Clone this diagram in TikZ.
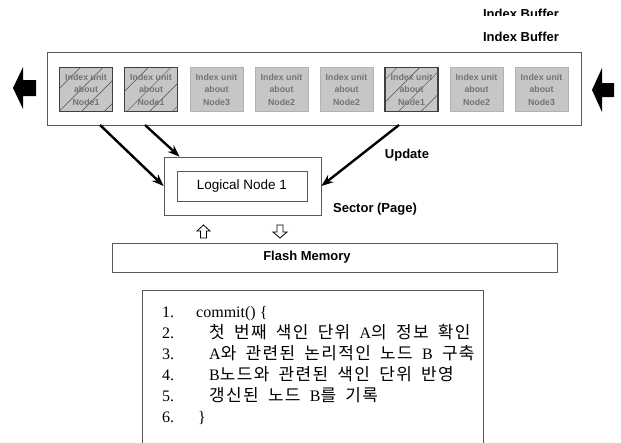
\documentclass[tikz,border=0pt]{standalone}
\usepackage{fontspec}
\setmainfont{Liberation Serif}
\setsansfont{Liberation Sans}
\newfontfamily\korfont{Noto Sans CJK KR}[Scale=1.06,LetterSpace=8,WordSpace=1.8]
\usetikzlibrary{arrows.meta,patterns.meta}
\newcommand{\kor}[1]{{\korfont #1}}
\tikzset{
  unit/.style={draw=gray!60, fill=gray!45, line width=0.6pt, minimum width=53pt, minimum height=44pt, inner sep=0pt, align=center, font=\sffamily\bfseries\fontsize{8.8}{12.5}\selectfont, text=black!55},
  oldunit/.style={unit, draw=gray!50!black, line width=1.1pt, postaction={pattern={Lines[angle=45,distance=16pt,line width=0.5pt]}, pattern color=gray!60!black}},
  frame/.style={draw=gray!70!black, line width=0.7pt, inner sep=0pt},
  lbl/.style={font=\sffamily\bfseries\fontsize{13}{15}\selectfont, inner sep=0pt},
  upd/.style={-{Stealth[length=12pt,width=9pt]}, line width=2.4pt},
  codeline/.style={anchor=base west, inner sep=0pt, font=\fontsize{16}{18}\selectfont}
}
\begin{document}
\begin{tikzpicture}[x=1pt,y=-1pt]
			\useasboundingbox (0,0) rectangle (621,442);
			\node[frame, minimum width=534pt, minimum height=73pt] (buffer) at (314,88.5) {};
			\node[oldunit] (unit1) at (86,89.5) {Index unit\\about\\Node1};
			\node[oldunit] (unit2) at (151,89.5) {Index unit\\about\\Node1};
			\node[unit] (unit3) at (216.5,89.5) {Index unit\\about\\Node3};
			\node[unit] (unit4) at (281.5,89.5) {Index unit\\about\\Node2};
			\node[unit] (unit5) at (346.5,89.5) {Index unit\\about\\Node2};
			\node[oldunit] (unit6) at (411.5,89.5) {Index unit\\about\\Node1};
			\node[unit] (unit7) at (476.5,89.5) {Index unit\\about\\Node2};
			\node[unit] (unit8) at (541.5,89.5) {Index unit\\about\\Node3};
			\fill (13,88) -- (23,67) -- (23,80) -- (36,80) -- (36,96) -- (23,96) -- (23,109) -- cycle;
			\fill (592,90) -- (602,68) -- (602,83) -- (614,83) -- (614,97) -- (602,97) -- (602,112) -- cycle;
			\begin{scope}
				\clip (470,0) rectangle (575,15.5);
				\node[lbl, anchor=base] (bufferclip) at (521,18) {Index Buffer};
			\end{scope}
			\node[lbl] (bufferlbl) at (521,37) {Index Buffer};
			\node[frame, minimum width=157pt, minimum height=58pt] (sector) at (242.5,186) {};
			\node[frame, minimum width=130pt, minimum height=30pt, font=\sffamily\fontsize{13.5}{15}\selectfont] (logical) at (242,186) {Logical Node 1};
			\coordinate (out1) at (100,125);
			\coordinate (out2) at (145,125);
			\coordinate (out3) at (399,125);
			\draw[upd] (out1) -- (sector.west);
			\draw[upd] (out2) -- (sector.155);
			\draw[upd] (out3) -- (sector.east);
			\node[lbl] (update) at (407,155) {Update};
			\node[lbl] (sectorlbl) at (375,209) {Sector (Page)};
			\draw[line width=0.8pt] (203.5,225) -- (210,231) -- (206.5,231) -- (206.5,238) -- (200.5,238) -- (200.5,231) -- (197,231) -- cycle;
			\draw[line width=0.8pt] (280,238) -- (287,232) -- (283,232) -- (283,225) -- (277,225) -- (277,232) -- (273,232) -- cycle;
			\node[frame, minimum width=445pt, minimum height=29pt] (flash) at (334.5,257.5) {};
			\node[lbl] (flashlbl) at (307,257.5) {Flash Memory};
			\node[frame, anchor=north west, minimum width=341pt, minimum height=175pt] (codebox) at (142,290) {};
			\node[codeline] (num1) at (162,317.5) {1.};
			\node[codeline] (num2) at (162,338.5) {2.};
			\node[codeline] (num3) at (162,359.5) {3.};
			\node[codeline] (num4) at (162,380.5) {4.};
			\node[codeline] (num5) at (162,401.5) {5.};
			\node[codeline] (num6) at (162,422.5) {6.};
			\node[codeline] (line1) at (196,317.5) {commit() \{};
			\node[codeline] (line2) at (209,338.5) {\kor{첫 번째 색인 단위 }A\kor{의 정보 확인}};
			\node[codeline] (line3) at (209,359.5) {A\kor{와 관련된 논리적인 노드 }B\kor{ 구축}};
			\node[codeline] (line4) at (209,380.5) {B\kor{노드와 관련된 색인 단위 반영}};
			\node[codeline] (line5) at (209,401.5) {\kor{갱신된 노드 }B\kor{를 기록}};
			\node[codeline] (line6) at (198,422.5) {\}};
		\end{tikzpicture}
\end{document}
